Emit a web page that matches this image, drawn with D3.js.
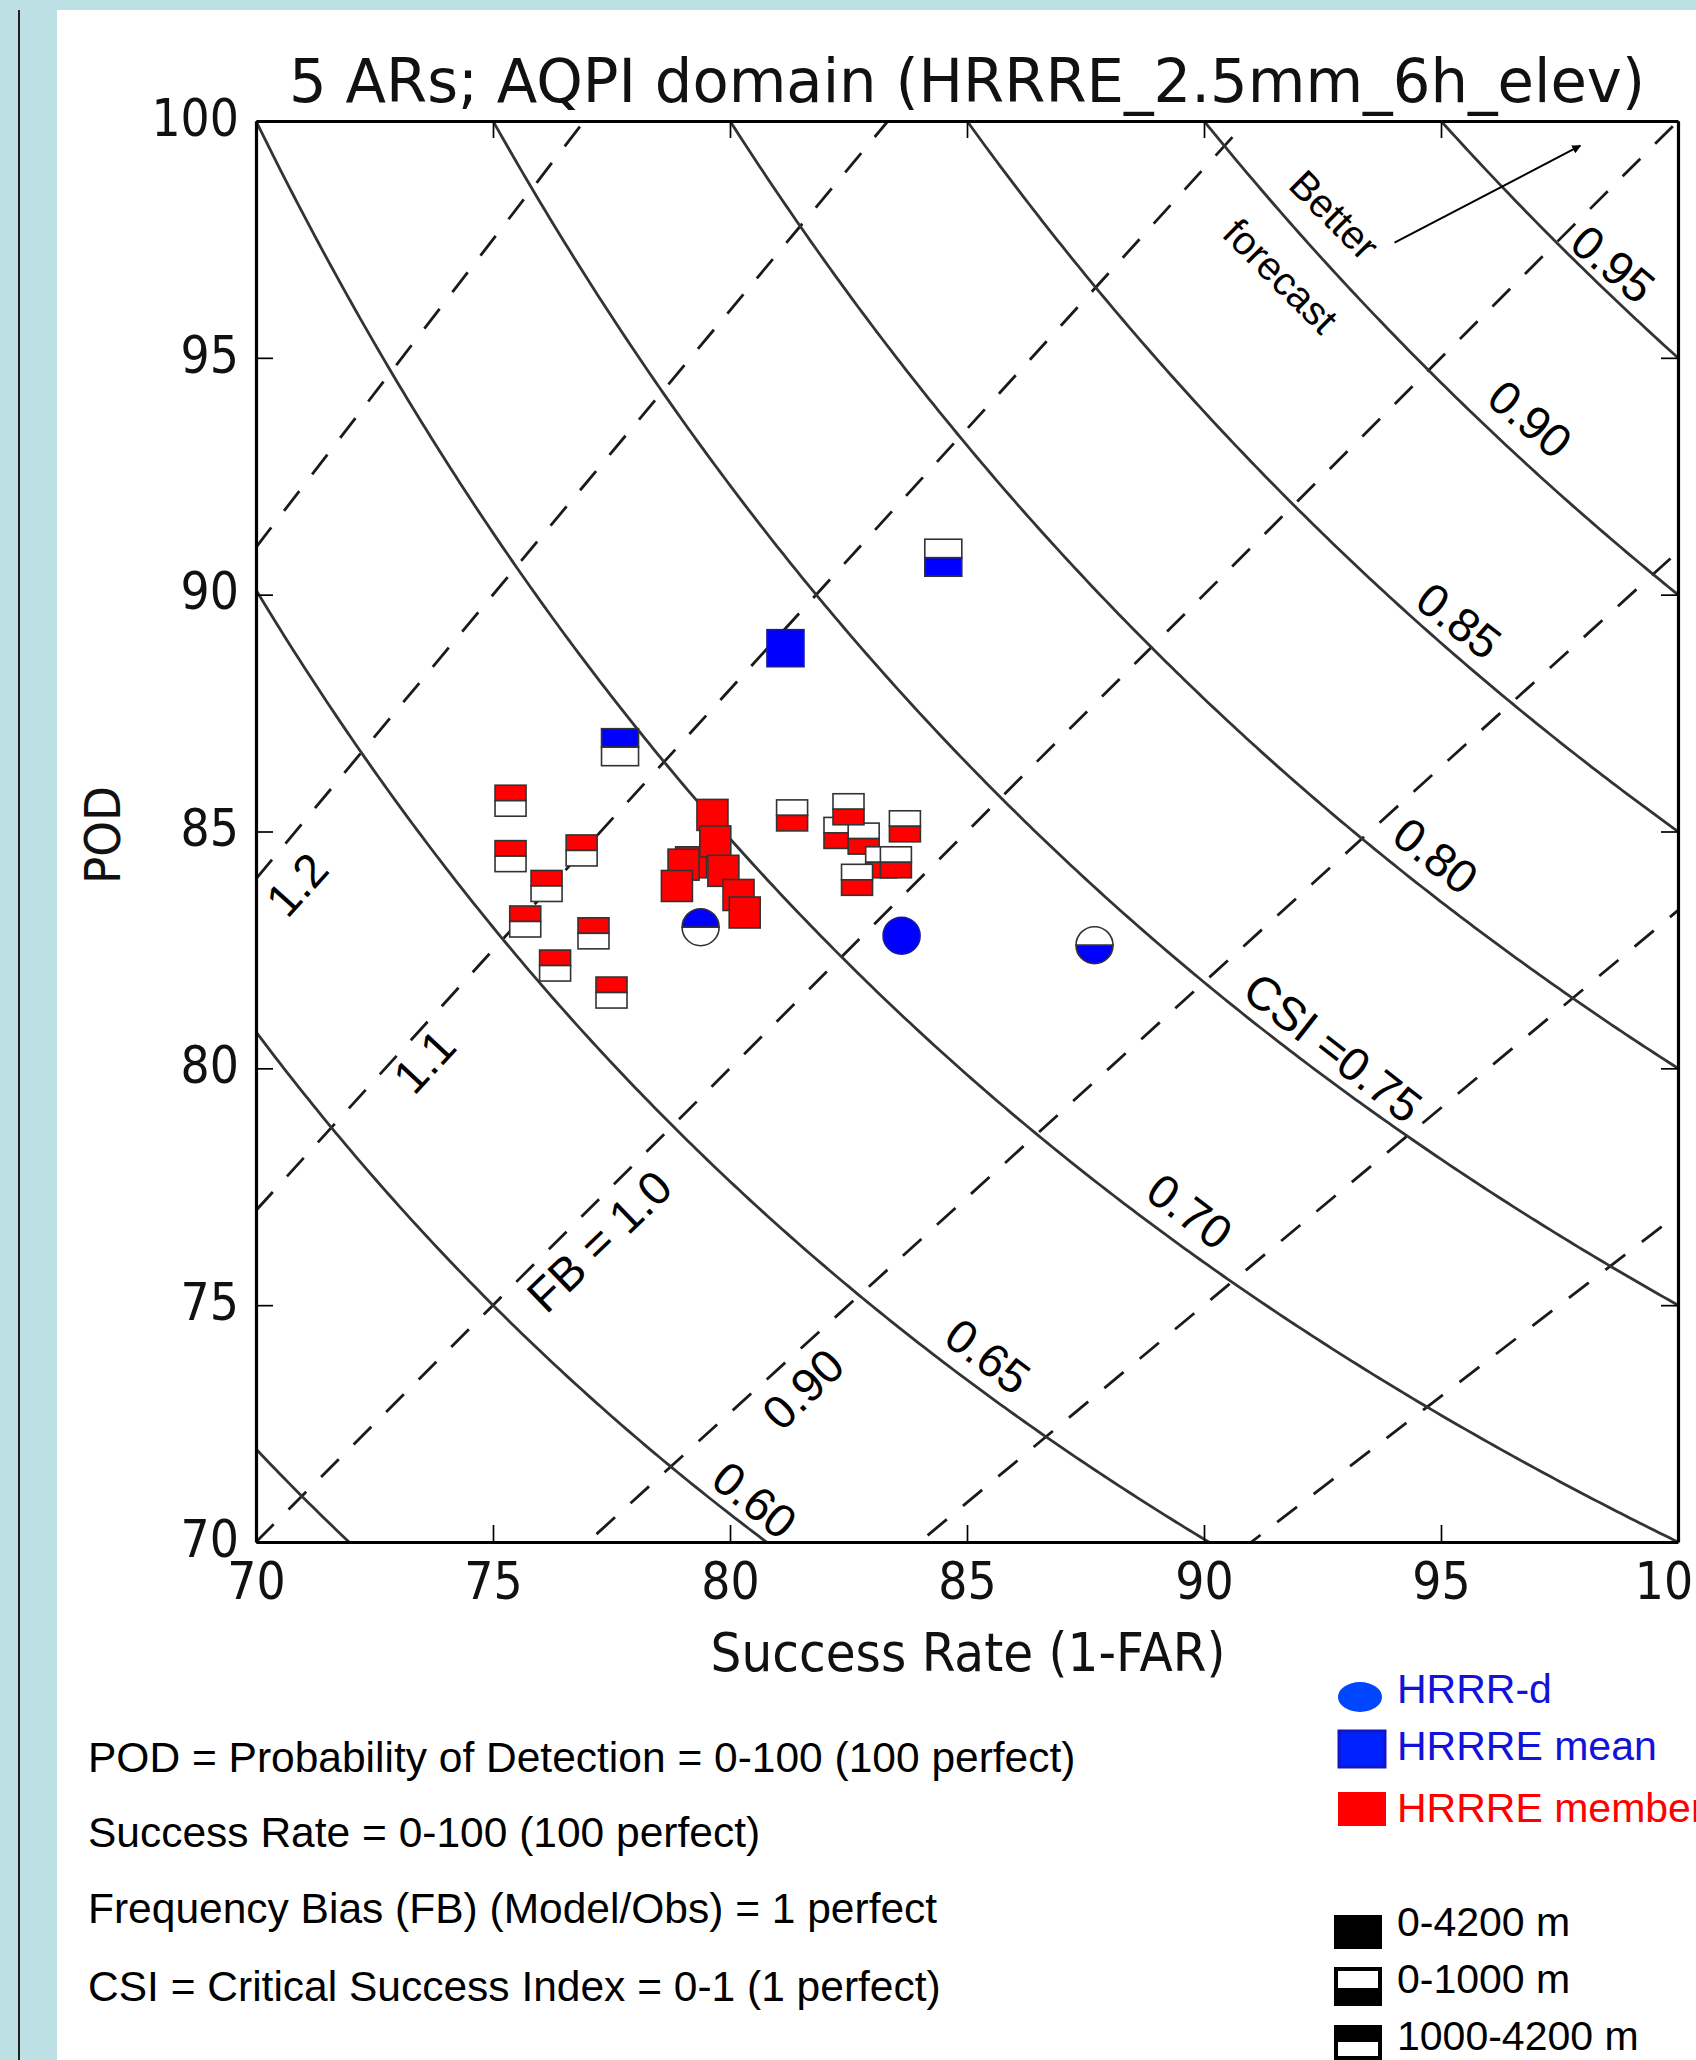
<!DOCTYPE html>
<html>
<head>
<meta charset="utf-8">
<script src="https://cdn.jsdelivr.net/npm/d3@7"></script>
<style>
  html, body { margin: 0; padding: 0; overflow: hidden; background: #bde0e4; }
  svg { display: block; }
</style>
</head>
<body>
<svg id="chart" width="1696" height="2060"></svg>
<script>
// ---- data ----
const csiLevels = [0.55, 0.60, 0.65, 0.70, 0.75, 0.80, 0.85, 0.90, 0.95];
const biasLevels = [1.3, 1.2, 1.1, 1.0, 1 / 1.1, 1 / 1.2, 1 / 1.3];
const xTicks = [70, 75, 80, 85, 90, 95, 100];
const yTicks = [70, 75, 80, 85, 90, 95, 100];

// HRRR-d (circles): [success rate, POD]
const hrrrdFull = [[83.62, 82.80]];   // 0-4200 m
const hrrrdLow = [[87.69, 82.60]];    // 0-1000 m
const hrrrdHigh = [[79.38, 82.98]];   // 1000-4200 m

// HRRRE mean (blue squares)
const meanFull = [[81.17, 88.87]];
const meanLow = [[84.50, 90.78]];
const meanHigh = [[77.68, 86.78]];

// HRRRE members (red squares)
const memberFull = [
  [79.18, 84.35], [79.02, 84.30], [78.88, 83.85], [79.63, 85.35],
  [79.69, 84.79], [79.86, 84.17], [80.18, 83.66], [80.31, 83.29]
];
const memberLow = [
  [81.31, 85.34], [82.31, 84.97], [82.82, 84.85], [82.50, 85.47],
  [83.69, 85.11], [83.19, 84.35], [83.50, 84.35], [82.68, 83.98]
];
const memberHigh = [
  [75.37, 85.65], [75.37, 84.48], [76.87, 84.60], [76.13, 83.85],
  [75.68, 83.10], [77.12, 82.85], [76.31, 82.17], [77.50, 81.60]
];

// annotation texts, placed in data units
const csiLabels = [
  { t: "0.95", sr: 98.63, pod: 96.98, rot: 40 },
  { t: "0.90", sr: 96.88, pod: 93.71, rot: 40 },
  { t: "0.85", sr: 95.38, pod: 89.45, rot: 38 },
  { t: "0.80", sr: 94.89, pod: 84.49, rot: 38 },
  { t: "CSI =0.75", sr: 92.72, pod: 80.44, rot: 38 },
  { t: "0.70", sr: 89.70, pod: 76.98, rot: 37 },
  { t: "0.65", sr: 85.44, pod: 73.92, rot: 37 },
  { t: "0.60", sr: 80.52, pod: 70.89, rot: 39 }
];
const biasLabels = [
  { t: "1.2", sr: 70.86, pod: 83.88, rot: -48 },
  { t: "1.1", sr: 73.55, pod: 80.15, rot: -47 },
  { t: "FB = 1.0", sr: 77.24, pod: 76.35, rot: -44 },
  { t: "0.90", sr: 81.54, pod: 73.23, rot: -44 }
];
const betterLabels = [
  { t: "Better", sr: 92.75, pod: 98.02, rot: 45 },
  { t: "forecast", sr: 91.62, pod: 96.73, rot: 45 }
];
const arrowFrom = [94.02, 97.43];
const arrowTo = [97.94, 99.48];

const notes = [
  "POD = Probability of Detection = 0-100 (100 perfect)",
  "Success Rate = 0-100 (100 perfect)",
  "Frequency Bias (FB) (Model/Obs) = 1 perfect",
  "CSI = Critical Success Index = 0-1 (1 perfect)"
];

// ---- layout ----
const W = 1696, H = 2060;
const plot = { left: 256, top: 121, right: 1678, bottom: 1542 };
const svg = d3.select("#chart");

svg.append("rect").attr("width", W).attr("height", H).attr("fill", "#bde0e4");
svg.append("rect").attr("x", 57).attr("y", 10).attr("width", W - 57).attr("height", H - 10).attr("fill", "#fff");
svg.append("line").attr("x1", 19).attr("x2", 19).attr("y1", 10).attr("y2", H)
  .attr("stroke", "#222").attr("stroke-width", 2);

const x = d3.scaleLinear().domain([70, 100]).range([plot.left, plot.right]);
const y = d3.scaleLinear().domain([70, 100]).range([plot.bottom, plot.top]);

const defs = svg.append("defs");
defs.append("clipPath").attr("id", "plotclip").append("rect")
  .attr("x", plot.left).attr("y", plot.top)
  .attr("width", plot.right - plot.left).attr("height", plot.bottom - plot.top);
defs.append("marker").attr("id", "head").attr("viewBox", "0 0 10 10")
  .attr("refX", 9).attr("refY", 5).attr("markerWidth", 9).attr("markerHeight", 9)
  .attr("markerUnits", "userSpaceOnUse").attr("orient", "auto")
  .append("path").attr("d", "M0,0L10,5L0,10Z").attr("fill", "#000");

const inner = svg.append("g").attr("clip-path", "url(#plotclip)");

// bias lines (dashed)
inner.append("g").selectAll("line").data(biasLevels).join("line")
  .attr("x1", b => x(70)).attr("y1", b => y(70 * b))
  .attr("x2", b => x(100)).attr("y2", b => y(100 * b))
  .attr("stroke", "#1a1a1a").attr("stroke-width", 2.8)
  .attr("stroke-dasharray", "25,21");

// CSI isolines (solid)
const srGrid = d3.range(70, 100.0001, 0.1);
const csiLine = d3.line().x(d => x(d[0])).y(d => y(d[1]));
inner.append("g").selectAll("path").data(csiLevels).join("path")
  .attr("d", c => csiLine(srGrid.map(sr => [sr, 100 / (1 / c + 1 - 100 / sr)]).filter(d => d[1] < 102)))
  .attr("fill", "none").attr("stroke", "#333").attr("stroke-width", 2.8);

// ---- markers ----
const edge = "#333";
function squares(data, size, color, mode) {
  const h = size / 2;
  const grp = svg.append("g").selectAll("g").data(data).join("g")
    .attr("transform", d => `translate(${x(d[0])},${y(d[1])})`);
  if (mode === "full") {
    grp.append("rect").attr("x", -h).attr("y", -h).attr("width", size).attr("height", size)
      .attr("fill", color).attr("stroke", color === "blue" ? "#1a1aa0" : edge).attr("stroke-width", 1.6);
  } else {
    grp.append("rect").attr("x", -h).attr("y", -h).attr("width", size).attr("height", h)
      .attr("fill", mode === "top" ? color : "#fff").attr("stroke", edge).attr("stroke-width", 1.6);
    grp.append("rect").attr("x", -h).attr("y", 0).attr("width", size).attr("height", h)
      .attr("fill", mode === "top" ? "#fff" : color).attr("stroke", edge).attr("stroke-width", 1.6);
  }
}
function circles(data, size, color, mode) {
  const r = size / 2;
  const grp = svg.append("g").selectAll("g").data(data).join("g")
    .attr("transform", d => `translate(${x(d[0])},${y(d[1])})`);
  if (mode === "full") {
    grp.append("circle").attr("r", r).attr("fill", color)
      .attr("stroke", "#1a1aa0").attr("stroke-width", 1.6);
  } else {
    grp.append("path").attr("d", `M${-r},0A${r},${r} 0 0 1 ${r},0Z`)
      .attr("fill", mode === "top" ? color : "#fff").attr("stroke", edge).attr("stroke-width", 1.6);
    grp.append("path").attr("d", `M${-r},0A${r},${r} 0 0 0 ${r},0Z`)
      .attr("fill", mode === "top" ? "#fff" : color).attr("stroke", edge).attr("stroke-width", 1.6);
  }
}

squares(memberHigh, 31, "red", "top");
squares(memberLow, 31, "red", "bottom");
squares(memberFull, 31, "red", "full");
squares(meanHigh, 37, "blue", "top");
squares(meanFull, 37, "blue", "full");
squares(meanLow, 37, "blue", "bottom");
circles(hrrrdHigh, 37, "blue", "top");
circles(hrrrdFull, 37, "blue", "full");
circles(hrrrdLow, 37, "blue", "bottom");

// ---- axes, ticks inward on all four sides ----
const tickLen = 17;
function styleAxis(g) {
  g.select(".domain").attr("stroke", "#000").attr("stroke-width", 3.2);
  g.selectAll(".tick line").attr("stroke", "#000").attr("stroke-width", 1.7);
}
const mplFont = "DejaVu Sans";
const xAxisG = svg.append("g").attr("transform", `translate(0,${plot.bottom})`)
  .call(d3.axisBottom(x).tickValues(xTicks).tickSizeInner(-tickLen).tickSizeOuter(0).tickPadding(21))
  .call(styleAxis);
xAxisG.selectAll(".tick text").attr("font-family", mplFont).attr("font-size", 51)
  .attr("fill", "#111").attr("transform", "scale(0.9,1)");

const yAxisG = svg.append("g").attr("transform", `translate(${plot.left},0)`)
  .call(d3.axisLeft(y).tickValues(yTicks).tickSizeInner(-tickLen).tickSizeOuter(0).tickPadding(20))
  .call(styleAxis);
yAxisG.selectAll(".tick text").attr("font-family", mplFont).attr("font-size", 51)
  .attr("fill", "#111").attr("x", 0).attr("dy", "0.28em")
  .attr("transform", "translate(-17,0) scale(0.9,1)");

svg.append("g").attr("transform", `translate(0,${plot.top})`)
  .call(d3.axisTop(x).tickValues(xTicks).tickSizeInner(-tickLen).tickSizeOuter(0).tickFormat(""))
  .call(styleAxis);
svg.append("g").attr("transform", `translate(${plot.right},0)`)
  .call(d3.axisRight(y).tickValues(yTicks).tickSizeInner(-tickLen).tickSizeOuter(0).tickFormat(""))
  .call(styleAxis);

// matplotlib style texts, squeezed to the measured width
function mplText(str, o) {
  const t = svg.append("text").text(str)
    .attr("font-family", mplFont).attr("font-size", o.size)
    .attr("text-anchor", "middle").attr("fill", "#111");
  const sx = o.width / t.node().getComputedTextLength();
  t.attr("transform", `translate(${o.x},${o.y}) rotate(${o.rotate || 0}) scale(${sx},1)`);
  return t;
}
mplText("5 ARs; AQPI domain (HRRRE_2.5mm_6h_elev)", { x: 967, y: 102, size: 60, width: 1356 });
mplText("Success Rate (1-FAR)", { x: 968, y: 1671, size: 53, width: 515 });
mplText("POD", { x: 120, y: 835, size: 50, width: 98, rotate: -90 });

// ---- annotations on the diagram ----
const annFont = "Liberation Sans";
function annotate(list, size) {
  svg.append("g").selectAll("text").data(list).join("text")
    .attr("font-family", annFont).attr("font-size", size).attr("fill", "#000")
    .attr("text-anchor", "middle").attr("dominant-baseline", "central")
    .attr("transform", d => `translate(${x(d.sr)},${y(d.pod)}) rotate(${d.rot})`)
    .text(d => d.t);
}
annotate(csiLabels, 47);
annotate(biasLabels, 47);
annotate(betterLabels, 40);

svg.append("line")
  .attr("x1", x(arrowFrom[0])).attr("y1", y(arrowFrom[1]))
  .attr("x2", x(arrowTo[0])).attr("y2", y(arrowTo[1]))
  .attr("stroke", "#000").attr("stroke-width", 2).attr("marker-end", "url(#head)");

// ---- notes under the chart ----
svg.append("g").selectAll("text").data(notes).join("text")
  .attr("font-family", annFont).attr("font-size", 42.5).attr("fill", "#000")
  .attr("x", 88).attr("y", (d, i) => [1772, 1847, 1923, 2001][i])
  .text(d => d);

// ---- legend ----
const legBlue = "#1212d8";
svg.append("ellipse").attr("cx", 1360).attr("cy", 1697).attr("rx", 22).attr("ry", 15).attr("fill", "#0046ff");
svg.append("rect").attr("x", 1339).attr("y", 1731).attr("width", 46).attr("height", 36)
  .attr("fill", "#0022ff").attr("stroke", "#1515c8").attr("stroke-width", 3);
svg.append("rect").attr("x", 1338).attr("y", 1792).attr("width", 48).attr("height", 34).attr("fill", "#ff0000");

svg.append("rect").attr("x", 1334).attr("y", 1915).attr("width", 48).attr("height", 34).attr("fill", "#000");
svg.append("rect").attr("x", 1334).attr("y", 1967).attr("width", 48).attr("height", 39).attr("fill", "#000");
svg.append("rect").attr("x", 1338).attr("y", 1971).attr("width", 40).attr("height", 17).attr("fill", "#fff");
svg.append("rect").attr("x", 1334).attr("y", 2025).attr("width", 48).attr("height", 35).attr("fill", "#000");
svg.append("rect").attr("x", 1338).attr("y", 2042).attr("width", 40).attr("height", 14).attr("fill", "#fff");

const legendItems = [
  { t: "HRRR-d", c: legBlue, y: 1703 },
  { t: "HRRRE mean", c: legBlue, y: 1760 },
  { t: "HRRRE member", c: "#ff0000", y: 1822 },
  { t: "0-4200 m", c: "#000", y: 1936 },
  { t: "0-1000 m", c: "#000", y: 1993 },
  { t: "1000-4200 m", c: "#000", y: 2050 }
];
svg.append("g").selectAll("text").data(legendItems).join("text")
  .attr("font-family", annFont).attr("font-size", 41)
  .attr("x", 1397).attr("y", d => d.y).attr("fill", d => d.c)
  .text(d => d.t);
</script>
</body>
</html>
